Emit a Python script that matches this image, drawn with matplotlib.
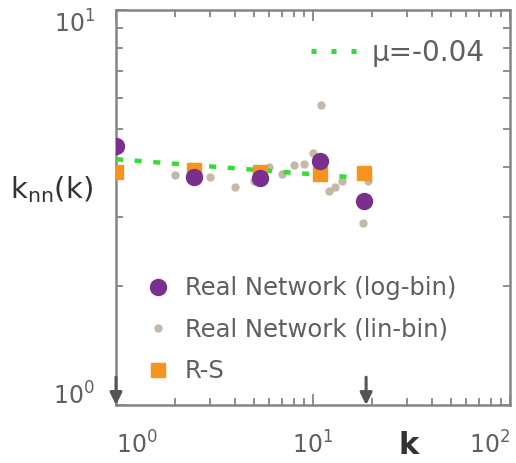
import numpy as np
import matplotlib
matplotlib.use("Agg")
import matplotlib.pyplot as plt
from matplotlib.lines import Line2D
from matplotlib.ticker import FixedLocator, LogLocator, NullFormatter

plt.rcParams['font.family'] = ['DejaVu Sans']
plt.rcParams['mathtext.fontset'] = 'dejavusans'

# data
k_log = [1.0, 2.48, 5.41, 10.8, 18.1]
knn_log = [4.53, 3.78, 3.75, 4.14, 3.28]

k_lin = [2, 3, 4, 5, 6, 7, 8, 9, 10, 11, 12, 13, 14, 18, 19]
knn_lin = [3.82, 3.77, 3.56, 3.68, 4.00, 3.84, 4.05, 4.07, 4.34, 5.75,
           3.48, 3.57, 3.70, 2.89, 3.68]

k_rs = [1.0, 2.48, 5.41, 10.8, 18.1]
knn_rs = [3.88, 3.94, 3.90, 3.84, 3.86]

fit_k = [1.0, 17.2]
fit_knn = [4.19, 3.76]
mu = -0.04

arrow_k = [1.0, 18.6]   # k_min, k_max markers

purple = '#7a2e8e'
tan = '#c4b8a6'
orange = '#f7941d'
green = '#33dd33'
grey = '#858585'

fig = plt.figure(figsize=(5.16, 4.63), dpi=100)
ax = fig.add_axes([0.2248, 0.1253, 0.7636, 0.8531])

ax.plot(fit_k, fit_knn, color=green, lw=3.2, dashes=(1.6, 2.6),
        dash_capstyle='butt', zorder=4)
h1, = ax.plot(k_log, knn_log, 'o', color=purple, ms=11.5, ls='none', zorder=5,
              label='Real Network (log-bin)')
h2, = ax.plot(k_lin, knn_lin, 'o', color=tan, ms=5, ls='none', zorder=3,
              label='Real Network (lin-bin)')
h3, = ax.plot(k_rs, knn_rs, 's', color=orange, ms=9.5, ls='none', zorder=4,
              label='R-S')

ax.set_xscale('log')
ax.set_yscale('log')
ax.set_xlim(1, 100)
ax.set_ylim(1, 10)

for sp in ax.spines.values():
    sp.set_color(grey)
    sp.set_linewidth(1.8)

ax.xaxis.set_major_locator(FixedLocator([1, 10, 100]))
ax.yaxis.set_major_locator(FixedLocator([1, 10]))
ax.set_xticklabels([r'$10^0$', r'$10^1$', r'$10^2$'])
ax.set_yticklabels([r'$10^0$', r'$10^1$'])
ax.xaxis.set_minor_locator(LogLocator(base=10, subs=np.arange(2, 10), numticks=10))
ax.yaxis.set_minor_locator(LogLocator(base=10, subs=np.arange(2, 10), numticks=10))
ax.xaxis.set_minor_formatter(NullFormatter())
ax.yaxis.set_minor_formatter(NullFormatter())
ax.tick_params(which='both', direction='in', top=True, right=True,
               color=grey, width=1.3, labelcolor='#606060', labelsize=17)
ax.tick_params(which='major', length=8)
ax.tick_params(which='minor', length=5)
ax.tick_params(axis='x', which='major', pad=19)
ax.tick_params(axis='y', which='major', pad=15)

xt = ax.xaxis.get_major_ticks()
xt[0].label1.set_ha('left')
xt[-1].label1.set_ha('right')
yt = ax.yaxis.get_major_ticks()
yt[0].label1.set_va('baseline')
yt[-1].label1.set_va('top')

ax.set_ylabel(r'k$_{\mathregular{nn}}$(k)', rotation=0, fontsize=21, color='#333333',
              va='center', ha='center')
ax.yaxis.set_label_coords(-0.165, 0.545)
ax.set_xlabel('k', fontsize=22, fontweight='bold', color='#333333')
ax.xaxis.set_label_coords(0.742, -0.065)

for k in arrow_k:
    ax.annotate('', xy=(k, 1), xycoords='data', xytext=(0, 20),
                textcoords='offset points',
                arrowprops=dict(arrowstyle='-|>', color='#555555', lw=2.2,
                                mutation_scale=18, shrinkA=0, shrinkB=0),
                annotation_clip=False, zorder=6)

leg1 = ax.legend(handles=[h1, h2, h3], loc='lower left',
                 bbox_to_anchor=(0.02, 0.0), frameon=False, fontsize=17.5,
                 labelcolor='#5f5f5f', handletextpad=0.6, handlelength=1.0,
                 labelspacing=0.72)
ax.add_artist(leg1)

fit_proxy = Line2D([], [], color=green, lw=3.6, dashes=(1.0, 3.0),
                   dash_capstyle='butt')
ax.legend([fit_proxy], [f'\u03bc={mu:.2f}'], loc='upper right',
          bbox_to_anchor=(1.0, 0.99), frameon=False, fontsize=20,
          labelcolor='#5f5f5f', handlelength=1.75, handletextpad=0.45)

fig.savefig('out.png', dpi=100, facecolor='white')
